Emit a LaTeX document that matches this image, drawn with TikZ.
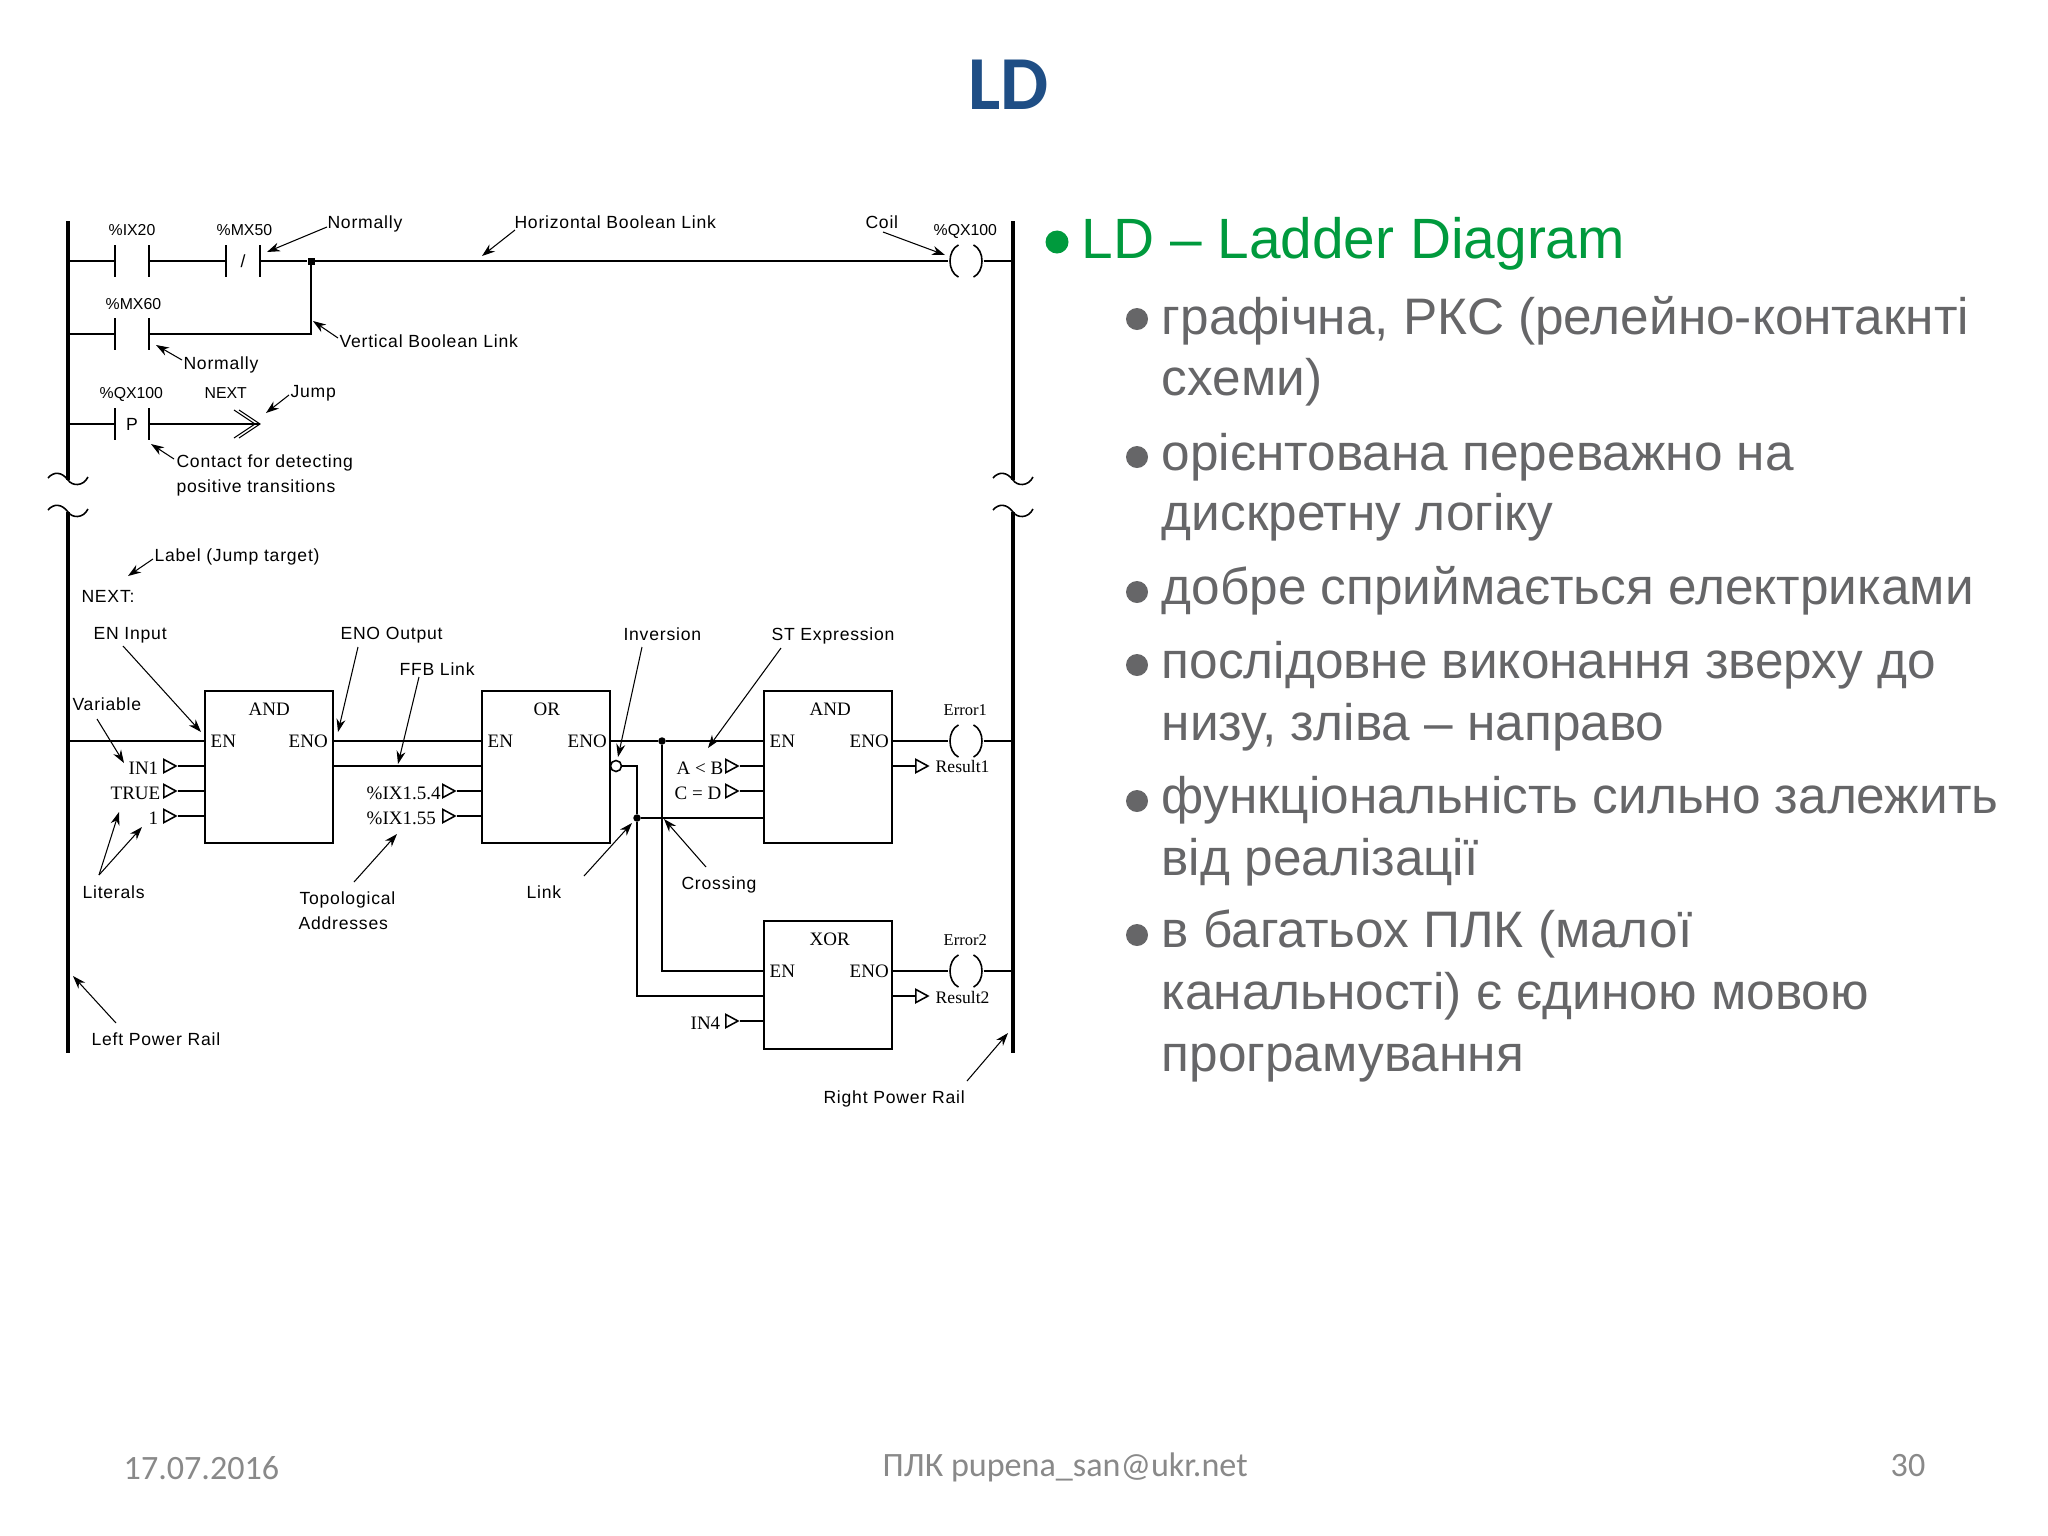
\documentclass[tikz,border=0pt]{standalone}
\usepackage{fontspec}
\usepackage{xcolor}
\usetikzlibrary{arrows.meta,shapes.geometric}
\setmainfont{Liberation Sans}
\newfontfamily\bmpsans{Liberation Sans}[LetterSpace=4.5]
\newfontfamily\bmpcond{Liberation Sans}
\newfontfamily\bmpserif{Liberation Serif}
\newfontfamily\slidefont{Carlito}
\definecolor{ldblue}{HTML}{1F4E85}
\definecolor{ldgreen}{HTML}{009A3D}
\definecolor{ldgray}{HTML}{666668}
\definecolor{ldfoot}{HTML}{898989}

\tikzset{
  wire/.style={line width=0.45pt,black},
  rail/.style={line width=1pt,black},
  callout/.style={line width=0.3pt,-{Stealth[length=.13cm,width=.09cm]}},
  lsans/.style={inner sep=0pt,anchor=base west,xshift=-.012cm,font=\bmpsans\fontsize{5}{6}\selectfont},
  lcond/.style={inner sep=0pt,anchor=base west,font=\bmpcond\fontsize{4.5}{6}\selectfont},
  lserif/.style={inner sep=0pt,anchor=base west,font=\bmpserif\fontsize{5.4}{6}\selectfont},
  lres/.style={lserif,font=\bmpserif\fontsize{5}{6}\selectfont},
  lerr/.style={lserif,font=\bmpserif\fontsize{4.7}{6}\selectfont},
  fblock/.style={draw,wire,rectangle,minimum width=1.28cm,minimum height=1.52cm,inner sep=0pt},
  contact/.style={rectangle,minimum width=.32cm,minimum height=.30cm,inner sep=0pt,
    font=\bmpsans\fontsize{5}{6}\selectfont,
    append after command={(\tikzlastnode.north west) edge[wire] (\tikzlastnode.south west)
      (\tikzlastnode.north east) edge[wire] (\tikzlastnode.south east)}},
  coil/.style={circle,minimum size=.34cm,inner sep=0pt,
    append after command={(\tikzlastnode.115) edge[wire,bend right=65] (\tikzlastnode.245)
      (\tikzlastnode.-65) edge[wire,bend right=65] (\tikzlastnode.65)}},
  pin/.style={draw,wire,isosceles triangle,isosceles triangle stretches,minimum width=.13cm,
    minimum height=.12cm,inner sep=0pt,anchor=apex},
  jct/.style={circle,fill=black,minimum size=.075cm,inner sep=0pt},
  jctsq/.style={rectangle,fill=black,minimum size=.07cm,inner sep=0pt},
  invert/.style={circle,draw,wire,fill=white,minimum size=.11cm,inner sep=0pt},
  blt/.style={circle,inner sep=0pt},
  txtmain/.style={inner sep=0pt,anchor=base west,text=ldgreen,font=\fontsize{16.16}{19}\selectfont},
  txtsub/.style={inner sep=0pt,anchor=base west,text=ldgray,font=\fontsize{14.6}{17}\selectfont},
  txtfoot/.style={inner sep=0pt,anchor=base west,text=ldfoot,font=\slidefont\fontsize{9.7}{11}\selectfont},
  railbreak/.pic={\draw[wire] (-20,-2) .. controls (-14,-9) and (-6,-8) .. (0,0) .. controls (4,6) and (15,7) .. (20,-3);}
}

\begin{document}
\begin{tikzpicture}[x=0.01cm,y=-0.01cm]
    \useasboundingbox (0,0) rectangle (2048,1536);

    % title and text on the right
    \node[inner sep=0pt,anchor=base west,text=ldblue,font=\slidefont\bfseries\fontsize{21.7}{26}\selectfont] (title) at (968,109) {LD};

    \node[blt,fill=ldgreen,minimum size=.23cm] (b0) at (1057,242) {};
    \node[txtmain] (t0) at (1081,258) {LD – Ladder Diagram};
    \node[blt,fill=ldgray,minimum size=.22cm] (b1) at (1137,319) {};
    \node[txtsub] (t1a) at (1161,334) {графічна, РКС (релейно-контакнті};
    \node[txtsub] (t1b) at (1161,395) {схеми)};
    \node[blt,fill=ldgray,minimum size=.22cm] (b2) at (1137,457) {};
    \node[txtsub] (t2a) at (1161,470) {орієнтована переважно на};
    \node[txtsub] (t2b) at (1161,530) {дискретну логіку};
    \node[blt,fill=ldgray,minimum size=.22cm] (b3) at (1137,592) {};
    \node[txtsub] (t3a) at (1161,604) {добре сприймається електриками};
    \node[blt,fill=ldgray,minimum size=.22cm] (b4) at (1137,665) {};
    \node[txtsub] (t4a) at (1161,678) {послідовне виконання зверху до};
    \node[txtsub] (t4b) at (1161,740) {низу, зліва – направо};
    \node[blt,fill=ldgray,minimum size=.22cm] (b5) at (1137,801) {};
    \node[txtsub] (t5a) at (1161,813) {функціональність сильно залежить};
    \node[txtsub] (t5b) at (1161,875) {від реалізації};
    \node[blt,fill=ldgray,minimum size=.22cm] (b6) at (1137,935) {};
    \node[txtsub] (t6a) at (1161,947) {в багатьох ПЛК (малої};
    \node[txtsub] (t6b) at (1161,1009) {канальності) є єдиною мовою};
    \node[txtsub] (t6c) at (1161,1071) {програмування};

    \node[txtfoot] (f1) at (123,1479) {17.07.2016};
    \node[txtfoot] (f2) at (882,1476) {ПЛК pupena\_san@ukr.net};
    \node[txtfoot] (f3) at (1890,1476) {30};

    % power rails
    \coordinate (railLa) at (68,221);
    \coordinate (railLb) at (68,480);
    \coordinate (railLc) at (68,512);
    \coordinate (railLd) at (68,1053);
    \coordinate (railRa) at (1013,221);
    \coordinate (railRb) at (1013,480);
    \coordinate (railRc) at (1013,512);
    \coordinate (railRd) at (1013,1053);
    \draw[rail] (railLa) -- (railLb);
    \draw[rail] (railLc) -- (railLd);
    \draw[rail] (railRa) -- (railRb);
    \draw[rail] (railRc) -- (railRd);
    \pic at (railLb) {railbreak};
    \pic at (railLc) {railbreak};
    \pic at (railRb) {railbreak};
    \pic at (railRc) {railbreak};

    \coordinate (r1) at (68,261);
    \coordinate (r2) at (68,334);
    \coordinate (r3) at (68,424);
    \coordinate (r4) at (68,741);

    % upper rungs
    \node[contact] (c1) at (132,261) {};
    \node[contact] (c2) at (243,261) {/};
    \node[contact] (c3) at (132,334) {};
    \node[contact] (c4) at (132,424) {P};
    \node[jctsq] (j0) at (311,261) {};
    \node[coil] (k0) at (966,261) {};
    \coordinate (jmp) at (260,424);

    \draw[wire] (r1) -- (c1);
    \draw[wire] (c1) -- (c2);
    \draw[wire] (c2) -- (j0);
    \draw[wire] (j0) -- (k0);
    \draw[wire] (k0) -- (k0 -| railRa);
    \draw[wire] (r2) -- (c3);
    \draw[wire] (c3) -| (j0);
    \draw[wire] (r3) -- (c4);
    \draw[wire] (c4) -- (jmp);
    \draw[line width=0.3pt] (jmp) ++(-21,-14) -- (jmp) -- ++(-21,14);
    \draw[line width=0.3pt] (jmp) ++(-26,-14) -- ++(21,14) -- ++(-21,14);

    \node[lcond] (n1) at (108,235) {\%IX20};
    \node[lcond] (n2) at (216,235) {\%MX50};
    \node[lcond] (n3) at (105,309) {\%MX60};
    \node[lcond] (n4) at (99,398) {\%QX100};
    \node[lcond] (n5) at (204,398) {NEXT};
    \node[lcond] (n6) at (933,235) {\%QX100};

    % blocks
    \node[fblock] (and1) at (269,767) {};
    \node[fblock] (or1) at (546,767) {};
    \node[fblock] (and2) at (828,767) {};
    \node[fblock,minimum height=1.28cm] (xor1) at (828,985) {};
    \node[lserif] (h1) at (248,715) {AND};
    \node[lserif] (h2) at (533,715) {OR};
    \node[lserif] (h3) at (809,715) {AND};
    \node[lserif] (h4) at (809,945) {XOR};
    \node[lserif] (e1) at (210,747) {EN};
    \node[lserif] (e2) at (288,747) {ENO};
    \node[lserif] (e3) at (487,747) {EN};
    \node[lserif] (e4) at (567,747) {ENO};
    \node[lserif] (e5) at (769,747) {EN};
    \node[lserif] (e6) at (849,747) {ENO};
    \node[lserif] (e7) at (769,977) {EN};
    \node[lserif] (e8) at (849,977) {ENO};

    % pins of the blocks
    \node[pin] (p1) at (178,766) {};
    \node[pin] (p2) at (178,791) {};
    \node[pin] (p3) at (178,816) {};
    \node[pin] (p4) at (457,791) {};
    \node[pin] (p5) at (457,816) {};
    \node[pin] (p6) at (740,766) {};
    \node[pin] (p7) at (740,791) {};
    \node[pin] (p8) at (740,1021) {};
    \node[pin] (p9) at (930,766) {};
    \node[pin] (p10) at (930,996) {};
    \node[lserif] (v1) at (128,774) {IN1};
    \node[lserif] (v2) at (110,799) {TRUE};
    \node[lserif] (v3) at (148,824) {1};
    \node[lserif] (v4) at (366,799) {\%IX1.5.4};
    \node[lserif] (v5) at (366,824) {\%IX1.55};
    \node[lserif] (v6) at (676,774) {A < B};
    \node[lserif] (v7) at (674,799) {C = D};
    \node[lserif] (v8) at (690,1029) {IN4};
    \node[lres] (v9) at (935,772) {Result1};
    \node[lres] (v10) at (935,1003) {Result2};
    \node[lerr] (v11) at (943,715) {Error1};
    \node[lerr] (v12) at (943,945) {Error2};

    \node[coil] (k1) at (966,741) {};
    \node[coil] (k2) at (966,971) {};
    \node[invert] (inv) at (616,766) {};
    \node[jct] (j1) at (662,741) {};
    \node[jct] (j2) at (637,818) {};

    \draw[wire] (r4) -- (r4 -| and1.west);
    \draw[wire] (r4 -| and1.east) -- (r4 -| or1.west);
    \draw[wire] (r4 -| or1.east) -- (j1);
    \draw[wire] (j1) -- (r4 -| and2.west);
    \draw[wire] (r4 -| and2.east) -- (k1);
    \draw[wire] (k1) -- (k1 -| railRa);
    \draw[wire] (k2 -| xor1.east) -- (k2);
    \draw[wire] (k2) -- (k2 -| railRa);
    \draw[wire] (p1 -| and1.east) -- (p1 -| or1.west);
    \draw[wire] (p1.apex) -- (p1 -| and1.west);
    \draw[wire] (p2.apex) -- (p2 -| and1.west);
    \draw[wire] (p3.apex) -- (p3 -| and1.west);
    \draw[wire] (p4.apex) -- (p4 -| or1.west);
    \draw[wire] (p5.apex) -- (p5 -| or1.west);
    \draw[wire] (p6.apex) -- (p6 -| and2.west);
    \draw[wire] (p7.apex) -- (p7 -| and2.west);
    \draw[wire] (p8.apex) -- (p8 -| xor1.west);
    \draw[wire] (p9 -| and2.east) -- (p9.lower side);
    \draw[wire] (p10 -| xor1.east) -- (p10.lower side);
    \draw[wire] (inv) -| (j2);
    \draw[wire] (j2) |- (p10 -| xor1.west);
    \draw[wire] (j2) -- (j2 -| and2.west);
    \draw[wire] (j1) |- (k2 -| xor1.west);

    % labels with arrows
    \node[lsans] (l1) at (328,228) {Normally};
    \node[lsans] (l2) at (515,228) {Horizontal Boolean Link};
    \node[lsans] (l3) at (866,228) {Coil};
    \node[lsans] (l4) at (184,369) {Normally};
    \node[lsans] (l5) at (340,347) {Vertical Boolean Link};
    \node[lsans] (l6) at (291,397) {Jump};
    \node[lsans] (l7) at (177,467) {Contact for detecting};
    \node[lsans] (l8) at (177,492) {positive transitions};
    \node[lsans] (l9) at (155,561) {Label (Jump target)};
    \node[lsans] (l10) at (82,602) {NEXT:};
    \node[lsans] (l11) at (94,639) {EN Input};
    \node[lsans] (l12) at (341,639) {ENO Output};
    \node[lsans] (l13) at (400,675) {FFB Link};
    \node[lsans] (l14) at (73,710) {Variable};
    \node[lsans] (l15) at (83,898) {Literals};
    \node[lsans] (l16) at (300,904) {Topological};
    \node[lsans] (l17) at (299,929) {Addresses};
    \node[lsans] (l18) at (527,898) {Link};
    \node[lsans] (l19) at (92,1045) {Left Power Rail};
    \node[lsans] (l20) at (624,640) {Inversion};
    \node[lsans] (l21) at (772,640) {ST Expression};
    \node[lsans] (l22) at (682,889) {Crossing};
    \node[lsans] (l23) at (824,1103) {Right Power Rail};

    \coordinate (a1) at (327,227); \coordinate (a1t) at (267,252);
    \coordinate (a2) at (515,230); \coordinate (a2t) at (482,256);
    \coordinate (a3) at (883,232); \coordinate (a3t) at (945,255);
    \coordinate (a4) at (182,360); \coordinate (a4t) at (156,345);
    \coordinate (a5) at (338,338); \coordinate (a5t) at (313,321);
    \coordinate (a6) at (289,395); \coordinate (a6t) at (266,413);
    \coordinate (a7) at (174,459); \coordinate (a7t) at (151,444);
    \coordinate (a9) at (153,559); \coordinate (a9t) at (128,576);
    \coordinate (a11) at (123,646); \coordinate (a11t) at (201,732);
    \coordinate (a12) at (358,647); \coordinate (a12t) at (338,732);
    \coordinate (a13) at (419,677); \coordinate (a13t) at (398,764);
    \coordinate (a14) at (97,719); \coordinate (a14t) at (124,763);
    \coordinate (a15) at (99,875); \coordinate (a15t) at (119,812); \coordinate (a15u) at (142,827);
    \coordinate (a16) at (354,882); \coordinate (a16t) at (397,834);
    \coordinate (a18) at (584,876); \coordinate (a18t) at (632,823);
    \coordinate (a19) at (116,1023); \coordinate (a19t) at (73,976);
    \coordinate (a20) at (642,647); \coordinate (a20t) at (618,757);
    \coordinate (a21) at (781,648); \coordinate (a21t) at (708,748);
    \coordinate (a22) at (706,867); \coordinate (a22t) at (664,819);
    \coordinate (a23) at (967,1081); \coordinate (a23t) at (1008,1033);

    \draw[callout] (a1) to (a1t);
    \draw[callout] (a2) to (a2t);
    \draw[callout] (a3) to (a3t);
    \draw[callout] (a4) to (a4t);
    \draw[callout] (a5) to (a5t);
    \draw[callout] (a6) to (a6t);
    \draw[callout] (a7) to (a7t);
    \draw[callout] (a9) to (a9t);
    \draw[callout] (a11) to (a11t);
    \draw[callout] (a12) to (a12t);
    \draw[callout] (a13) to (a13t);
    \draw[callout] (a14) to (a14t);
    \draw[callout] (a15) to (a15t);
    \draw[callout] (a15) to (a15u);
    \draw[callout] (a16) to (a16t);
    \draw[callout] (a18) to (a18t);
    \draw[callout] (a19) to (a19t);
    \draw[callout] (a20) to (a20t);
    \draw[callout] (a21) to (a21t);
    \draw[callout] (a22) to (a22t);
    \draw[callout] (a23) to (a23t);
\end{tikzpicture}
\end{document}
